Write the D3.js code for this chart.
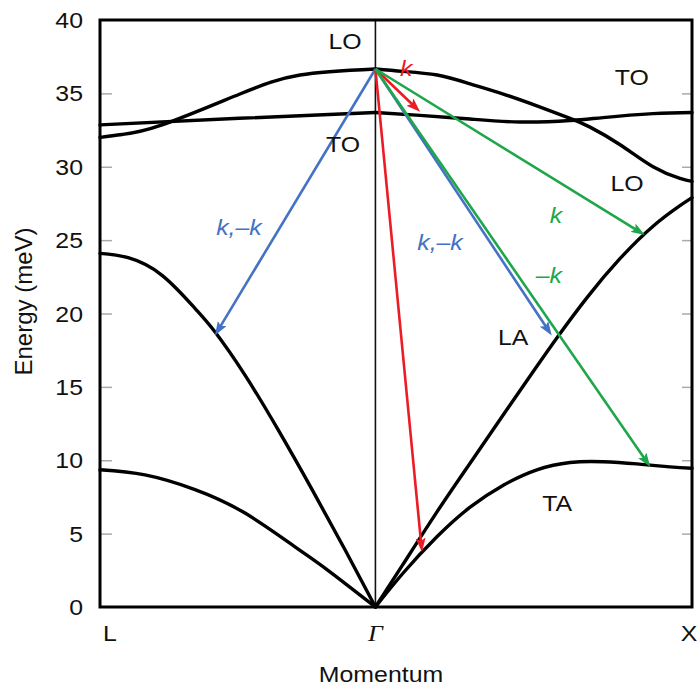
<!DOCTYPE html>
<html>
<head>
<meta charset="utf-8">
<script src="https://cdn.jsdelivr.net/npm/d3@7"></script>
<style>
  body { margin: 0; background: #fff; }
</style>
</head>
<body>
<div id="chart-container"></div>
<script>

//Data: momentum q (L = -0.87, Gamma = 0, X = 1) and energy in meV

const yTicks = [0, 5, 10, 15, 20, 25, 30, 35, 40];
const xPointNames = ["L", "Γ", "X"];
const xPointQ = [-0.87, 0, 1];

// Gamma -> L side
const laLeftQ = [-0.87, -0.781, -0.674, -0.570, -0.507, -0.412, -0.308, -0.200, -0.096, 0];
const laLeftE = [24.1, 23.8, 22.6, 20.35, 18.75, 15.8, 12.1, 8.0, 3.9, 0];
const taLeftQ = [-0.87, -0.728, -0.570, -0.412, -0.254, -0.150, 0];
const taLeftE = [9.35, 9.0, 8.0, 6.4, 4.1, 2.5, 0];
const loLeftQ = [-0.87, -0.80, -0.674, -0.428, -0.238, 0];
const loLeftE = [32.0, 32.2, 32.85, 34.96, 36.25, 36.66];
const toLeftQ = [-0.87, -0.43, 0];
const toLeftE = [32.85, 33.3, 33.7];

// Gamma -> X side
const laRightQ = [0, 0.087, 0.195, 0.299, 0.404, 0.510, 0.577, 0.669, 0.773, 0.877, 0.962, 1.0];
const laRightE = [0, 2.9, 6.5, 9.8, 13.1, 16.4, 18.45, 21.1, 23.75, 25.95, 27.35, 27.9];
const taRightQ = [0, 0.087, 0.195, 0.299, 0.404, 0.510, 0.615, 0.719, 0.826, 0.930, 1.0];
const taRightE = [0, 2.3, 4.8, 6.8, 8.3, 9.35, 9.85, 9.9, 9.75, 9.55, 9.45];
const loRightQ = [0, 0.087, 0.195, 0.299, 0.404, 0.510, 0.615, 0.678, 0.773, 0.877, 0.962, 1.0];
const loRightE = [36.66, 36.5, 36.25, 35.65, 34.95, 34.15, 33.3, 32.7, 31.5, 30.0, 29.2, 29.0];
const toRightQ = [0, 0.141, 0.299, 0.457, 0.615, 0.719, 0.877, 1.0];
const toRightE = [33.7, 33.5, 33.25, 33.05, 33.15, 33.35, 33.62, 33.7];

// scattering arrows, all leaving the LO mode at Gamma
const arrowKind = ["blue", "blue", "red", "red", "green", "green"];
const arrowFromQ = [0, 0, 0, 0, 0, 0];
const arrowFromE = [36.66, 36.66, 36.66, 36.66, 36.66, 36.66];
const arrowToQ = [-0.507, 0.557, 0.147, 0.141, 0.851, 0.868];
const arrowToE = [18.5, 18.5, 3.75, 33.75, 25.35, 9.55];

// branch names and arrow annotations (q, E of the text baseline centre)
const branchNames = ["LO", "TO", "TO", "LO", "LA", "TA"];
const branchNameQ = [-0.096, -0.102, 0.810, 0.795, 0.435, 0.574];
const branchNameE = [38.0, 31.0, 35.57, 28.35, 17.85, 6.54];
const noteText = ["k", "k,–k", "k,–k", "k", "–k"];
const noteKind = ["red", "blue", "blue", "green", "green"];
const noteQ = [0.097, -0.431, 0.204, 0.570, 0.548];
const noteE = [36.2, 25.35, 24.33, 26.17, 22.08];

//Chart dimensions and margins

const margin = { top: 20, right: 5, bottom: 79, left: 100 };
const width = 697 - margin.left - margin.right;
const height = 686 - margin.top - margin.bottom;
const stretch = 1.13;  // text in the picture is a little wide

const xScale = d3.scaleLinear().domain([-0.87, 1]).range([0, width]);
const yScale = d3.scaleLinear().domain([0, 40]).range([height, 0]);
const colour = d3.scaleOrdinal()
  .domain(["red", "blue", "green"])
  .range(["#ec1c24", "#4472c4", "#1ea64a"]);

const svg = d3.select("#chart-container")
  .append("svg")
  .attr("width", width + margin.left + margin.right)
  .attr("height", height + margin.top + margin.bottom)
  .append("g")
  .attr("transform", `translate(${margin.left},${margin.top})`);

//helper for the slightly stretched labels
function putText(x, y, str, opts = {}) {
  const rot = opts.rotate ? ` rotate(${opts.rotate})` : "";
  return svg.append("text")
    .attr("transform", `translate(${x},${y}) scale(${opts.sx || stretch},1)${rot}`)
    .attr("text-anchor", opts.anchor || "middle")
    .style("font-family", opts.family || "'Liberation Sans', Arial, sans-serif")
    .style("font-size", (opts.size || 22) + "px")
    .style("font-style", opts.italic ? "italic" : "normal")
    .style("fill", opts.fill || "#111")
    .text(str);
}

//Tick marks on the inside of both vertical edges

svg.append("g")
  .call(d3.axisRight(yScale).tickValues(yTicks.slice(1, -1)).tickSize(12).tickFormat(""))
  .call((g) => g.select(".domain").remove())
  .selectAll(".tick line")
    .attr("stroke", "#aaa")
    .attr("stroke-width", 1.5);

svg.append("g")
  .attr("transform", `translate(${width},0)`)
  .call(d3.axisLeft(yScale).tickValues(yTicks.slice(1, -1)).tickSize(10).tickFormat(""))
  .call((g) => g.select(".domain").remove())
  .selectAll(".tick line")
    .attr("stroke", "#aaa")
    .attr("stroke-width", 1.5);

//y tick labels
yTicks.forEach((t) => {
  putText(-17, yScale(t) + 8, String(t), { anchor: "end" });
});

//Gamma vertical line
svg.append("line")
  .attr("x1", xScale(0)).attr("x2", xScale(0))
  .attr("y1", 0).attr("y2", height)
  .attr("stroke", "#111")
  .attr("stroke-width", 1.6);

//Phonon branches

const branches = [
  [laLeftQ, laLeftE], [taLeftQ, taLeftE], [loLeftQ, loLeftE], [toLeftQ, toLeftE],
  [laRightQ, laRightE], [taRightQ, taRightE], [loRightQ, loRightE], [toRightQ, toRightE]
].map(([q, e]) => q.map((v, i) => ({ q: v, e: e[i] })));

const line = d3.line()
  .x((d) => xScale(d.q))
  .y((d) => yScale(d.e))
  .curve(d3.curveNatural);

svg.selectAll(".branch")
  .data(branches)
  .join("path")
  .attr("class", "branch")
  .attr("d", line)
  .attr("fill", "none")
  .attr("stroke", "#000")
  .attr("stroke-width", 3.4)
  .attr("stroke-linecap", "round");

//Frame
svg.append("rect")
  .attr("x", 0).attr("y", 0)
  .attr("width", width).attr("height", height)
  .attr("fill", "none")
  .attr("stroke", "#000")
  .attr("stroke-width", 3);

//Arrows

const defs = svg.append("defs");
defs.selectAll("marker")
  .data(colour.domain())
  .join("marker")
  .attr("id", (d) => "head-" + d)
  .attr("viewBox", "0 0 14 10")
  .attr("refX", 14)
  .attr("refY", 5)
  .attr("markerWidth", 14)
  .attr("markerHeight", 10)
  .attr("markerUnits", "userSpaceOnUse")
  .attr("orient", "auto")
  .append("path")
  .attr("d", "M0,0 L14,5 L0,10 L3,5 Z")
  .attr("fill", (d) => colour(d));

const arrows = arrowKind.map((k, i) => {
  const x1 = xScale(arrowFromQ[i]), y1 = yScale(arrowFromE[i]);
  const x2 = xScale(arrowToQ[i]), y2 = yScale(arrowToE[i]);
  const len = Math.hypot(x2 - x1, y2 - y1);
  return { k, x1, y1, x2, y2, len };
});

// shaft stops a bit short of the tip, the head carries on to it
svg.selectAll(".shaft")
  .data(arrows)
  .join("line")
  .attr("class", "shaft")
  .attr("x1", (d) => d.x1).attr("y1", (d) => d.y1)
  .attr("x2", (d) => d.x2 - (d.x2 - d.x1) * 8 / d.len)
  .attr("y2", (d) => d.y2 - (d.y2 - d.y1) * 8 / d.len)
  .attr("stroke", (d) => colour(d.k))
  .attr("stroke-width", 2.6);

svg.selectAll(".head")
  .data(arrows)
  .join("line")
  .attr("class", "head")
  .attr("x1", (d) => d.x2 - (d.x2 - d.x1) * 10 / d.len)
  .attr("y1", (d) => d.y2 - (d.y2 - d.y1) * 10 / d.len)
  .attr("x2", (d) => d.x2).attr("y2", (d) => d.y2)
  .attr("stroke", "none")
  .attr("marker-end", (d) => `url(#head-${d.k})`);

//Branch names and arrow notes

branchNames.forEach((s, i) => {
  putText(xScale(branchNameQ[i]), yScale(branchNameE[i]), s);
});

noteText.forEach((s, i) => {
  putText(xScale(noteQ[i]), yScale(noteE[i]), s, { italic: true, fill: colour(noteKind[i]) });
});

//x labels at the symmetry points
xPointNames.forEach((s, i) => {
  const isGamma = s === "Γ";
  putText(xScale(xPointQ[i]) + (i === 0 ? 10 : i === 2 ? -3 : 0), height + 34, s, {
    family: isGamma ? "'Liberation Serif', 'Times New Roman', serif" : undefined,
    italic: isGamma,
    size: isGamma ? 23 : 22
  });
});

//Axis titles
putText(width / 2 - 15, height + 75, "Momentum");
putText(-68, height / 2 - 12, "Energy (meV)", { rotate: -90, sx: 1, size: 24 });

</script>
</body>
</html>
